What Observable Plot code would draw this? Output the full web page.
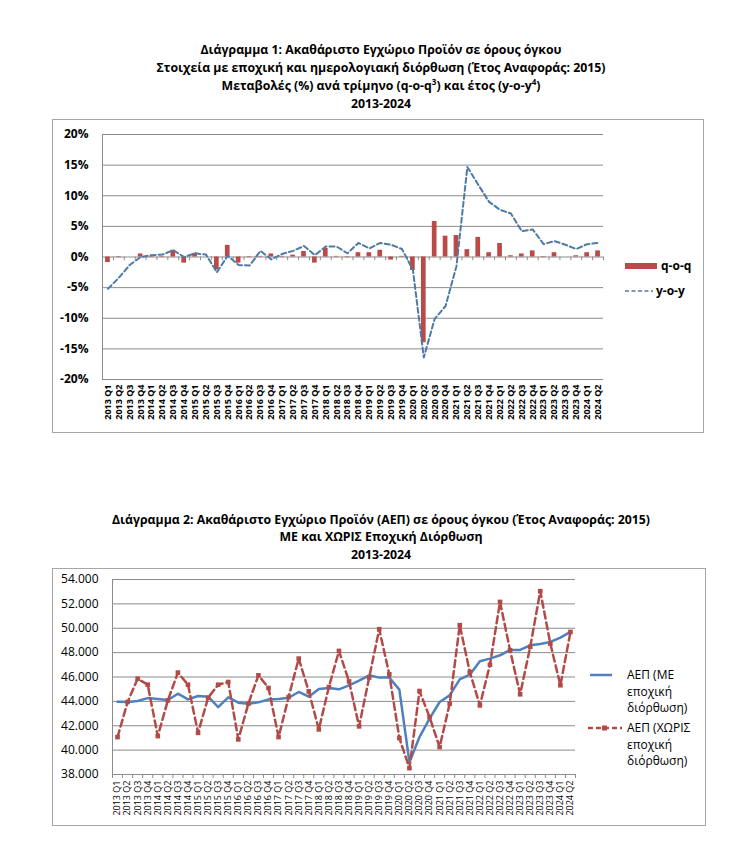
<!DOCTYPE html>
<html><head><meta charset="utf-8">
<script src="https://cdn.jsdelivr.net/npm/d3@7"></script>
<script src="https://cdn.jsdelivr.net/npm/@observablehq/plot@0.6"></script>
<style>
body{margin:0;background:#fff;font-family:"Open Sans",sans-serif;color:#000;}
#page{position:relative;width:750px;height:862px;overflow:hidden;}
.t{position:absolute;left:0;width:762px;text-align:center;font-weight:bold;font-size:12.3px;line-height:18px;white-space:nowrap;}
.t sup{font-size:8px;line-height:0;vertical-align:5px;}
.box{position:absolute;border:1px solid #a6a6a6;box-sizing:border-box;}
.plot{position:absolute;}
.lg{position:absolute;font-size:12px;white-space:nowrap;}
</style></head>
<body><div id="page">
<div class="t" style="top:41px">Διάγραμμα 1: Ακαθάριστο Εγχώριο Προϊόν σε όρους όγκου</div>
<div class="t" style="top:59px">Στοιχεία με εποχική και ημερολογιακή διόρθωση (Έτος Αναφοράς: 2015)</div>
<div class="t" style="top:77px">Μεταβολές (%) ανά τρίμηνο (q-o-q<sup>3</sup>) και έτος (y-o-y<sup>4</sup>)</div>
<div class="t" style="top:95px">2013-2024</div>
<div class="box" style="left:52px;top:119px;width:652px;height:314px"></div>
<div id="c1" class="plot" style="left:52px;top:119px"></div>
<div class="lg" style="left:625px;top:256px;font-weight:bold"><svg width="34" height="18" style="vertical-align:middle"><rect x="0" y="6" width="32" height="6" fill="#b94a48"/></svg><span style="vertical-align:middle;margin-left:2px">q-o-q</span></div>
<div class="lg" style="left:625px;top:281px;font-weight:bold"><svg width="30" height="18" style="vertical-align:middle"><line x1="0" y1="9" x2="28" y2="9" stroke="#4f7aa6" stroke-width="1.5" stroke-dasharray="4,2.5"/></svg><span style="vertical-align:middle;margin-left:1px">y-o-y</span></div>

<div class="t" style="top:511px">Διάγραμμα 2: Ακαθάριστο Εγχώριο Προϊόν (ΑΕΠ) σε όρους όγκου (Έτος Αναφοράς: 2015)</div>
<div class="t" style="top:528px">ΜΕ και ΧΩΡΙΣ Εποχική Διόρθωση</div>
<div class="t" style="top:546px">2013-2024</div>
<div class="box" style="left:52px;top:568px;width:654px;height:258px"></div>
<div id="c2" class="plot" style="left:52px;top:568px"></div>
<div class="lg" style="left:588px;top:667px;line-height:16.5px">
  <svg width="36" height="16" style="position:absolute;left:0;top:0"><line x1="2" y1="8" x2="24" y2="8" stroke="#4f81bd" stroke-width="2.5"/></svg>
  <div style="margin-left:39px">ΑΕΠ (ΜΕ<br>εποχική<br>διόρθωση)</div>
</div>
<div class="lg" style="left:588px;top:720px;line-height:16.5px">
  <svg width="36" height="16" style="position:absolute;left:0;top:0"><line x1="0" y1="8" x2="34" y2="8" stroke="#b24b48" stroke-width="2.5" stroke-dasharray="5,3"/><rect x="14" y="5.5" width="5" height="5" fill="#b24b48"/></svg>
  <div style="margin-left:39px">ΑΕΠ (ΧΩΡΙΣ<br>εποχική<br>διόρθωση)</div>
</div>
</div>
<script>
const quarters = [
 "2013 Q1","2013 Q2","2013 Q3","2013 Q4","2014 Q1","2014 Q2","2014 Q3","2014 Q4",
 "2015 Q1","2015 Q2","2015 Q3","2015 Q4","2016 Q1","2016 Q2","2016 Q3","2016 Q4",
 "2017 Q1","2017 Q2","2017 Q3","2017 Q4","2018 Q1","2018 Q2","2018 Q3","2018 Q4",
 "2019 Q1","2019 Q2","2019 Q3","2019 Q4","2020 Q1","2020 Q2","2020 Q3","2020 Q4",
 "2021 Q1","2021 Q2","2021 Q3","2021 Q4","2022 Q1","2022 Q2","2022 Q3","2022 Q4",
 "2023 Q1","2023 Q2","2023 Q3","2023 Q4","2024 Q1","2024 Q2"];
// Diagram 1: % change
const qoq = [-0.9,-0.1,0.0,0.5,0.1,0.1,1.1,-1.0,0.6,0.0,-2.1,1.9,-1.0,-0.1,0.1,0.5,
  0.1,0.3,0.9,-1.0,1.4,0.1,-0.1,0.7,0.7,1.1,-0.5,0.1,-2.2,-14.0,5.8,3.4,
  3.5,1.2,3.2,0.7,2.2,0.2,0.5,1.0,-0.1,0.7,0.0,0.2,0.7,1.0];
const yoy = [-5.2,-3.4,-1.3,0.0,0.3,0.4,1.1,0.0,0.6,0.4,-2.5,0.2,-1.3,-1.4,1.0,-0.4,
  0.5,1.0,1.8,0.3,1.7,1.7,0.6,2.3,1.4,2.3,2.0,1.3,-2.1,-16.4,-10.1,-8.0,
  -1.5,14.7,11.8,9.0,7.7,7.1,4.2,4.5,2.1,2.6,2.0,1.3,2.1,2.3];
const pctTicks = [-20,-15,-10,-5,0,5,10,15,20];
// Diagram 2: GDP levels (million €)
const gdpSA = [43970,43950,44030,44270,44190,44110,44630,44160,44440,44380,43530,44330,
  43890,43810,43920,44160,44190,44300,44770,44380,45010,45100,44990,45320,45700,46140,
  45950,45950,44960,39010,41070,42580,43950,44490,45810,46190,47290,47510,47780,48220,
  48220,48600,48710,48880,49230,49700];
const gdpNSA = [41070,43950,45860,45370,41150,44080,46360,45370,41420,44300,45370,45590,
  40880,43810,46140,45100,41070,44360,47510,44820,41700,45180,48140,45640,41950,45950,
  49920,46220,40990,38520,44850,42710,40250,43810,50250,46410,43670,47010,52160,48190,
  44580,48470,53040,48740,45320,49700];
const gdpTicks = [38000,40000,42000,44000,46000,48000,50000,52000,54000];

const d1 = quarters.map((q, i) => ({q, i, qoq: qoq[i], yoy: yoy[i]}));
const d2 = quarters.map((q, i) => ({q, i, sa: gdpSA[i], nsa: gdpNSA[i]}));
const centers = quarters.map((q, i) => i + 0.5);
const bounds = d3.range(quarters.length + 1);
const qLabel = v => quarters[Math.floor(v)];
const grid = "#8c8c8c";
const grLocale = d3.formatLocale({decimal: ",", thousands: ".", grouping: [3]});
const fmtGdp = v => grLocale.format(",")(v);

const c1 = Plot.plot({
  width: 652, height: 314,
  marginLeft: 50, marginRight: 101, marginTop: 15, marginBottom: 54,
  style: {fontFamily: "Open Sans", background: "transparent", color: "#000", overflow: "visible"},
  x: {domain: [0, quarters.length], axis: null, label: null},
  y: {domain: [-20, 20], axis: null, label: null},
  marks: [
    Plot.ruleY(pctTicks, {stroke: grid, strokeWidth: 1}),
    Plot.ruleX([0], {stroke: grid}),
    Plot.rectY(d1, {x1: "i", x2: d => d.i + 1, y: "qoq", fill: "#b94a48", insetLeft: 3.1, insetRight: 3.1}),
    Plot.ruleX(bounds, {y1: 0, y2: -0.6, stroke: grid}),
    Plot.line(d1, {x: d => d.i + 0.5, y: "yoy", stroke: "#4f7aa6", strokeWidth: 2, strokeDasharray: "5,3"}),
    Plot.axisY({ticks: pctTicks, tickFormat: d => d + "%", tickSize: 0, tickPadding: 14, fontWeight: "bold", fontSize: 12, label: null}),
    Plot.axisX({ticks: centers, tickFormat: qLabel, tickRotate: -90, tickSize: 0, tickPadding: 5, fontSize: 9, fontWeight: "bold", label: null})
  ]
});
document.getElementById("c1").append(c1);

const c2 = Plot.plot({
  width: 654, height: 258,
  marginLeft: 60, marginRight: 131, marginTop: 11, marginBottom: 52,
  style: {fontFamily: "Open Sans", background: "transparent", color: "#000", overflow: "visible"},
  x: {domain: [0, quarters.length], axis: null, label: null},
  y: {domain: [38000, 54000], axis: null, label: null},
  marks: [
    Plot.ruleY(gdpTicks, {stroke: grid, strokeWidth: 1}),
    Plot.ruleX([0], {stroke: grid}),
    Plot.axisX({ticks: bounds, tickFormat: () => "", tickSize: 4, stroke: grid, label: null}),
    Plot.axisX({ticks: centers, tickFormat: qLabel, tickRotate: -90, tickSize: 0, tickPadding: 6, fontSize: 9, label: null}),
    Plot.axisY({ticks: gdpTicks, tickFormat: fmtGdp, tickSize: 0, tickPadding: 14, fontSize: 12, label: null}),
    Plot.line(d2, {x: d => d.i + 0.5, y: "sa", stroke: "#4f81bd", strokeWidth: 2.5}),
    Plot.line(d2, {x: d => d.i + 0.5, y: "nsa", stroke: "#b24b48", strokeWidth: 2.5, strokeDasharray: "7,4"}),
    Plot.dot(d2, {x: d => d.i + 0.5, y: "nsa", symbol: "square", fill: "#b24b48", r: 2.6})
  ]
});
document.getElementById("c2").append(c2);
</script>
</body></html>
